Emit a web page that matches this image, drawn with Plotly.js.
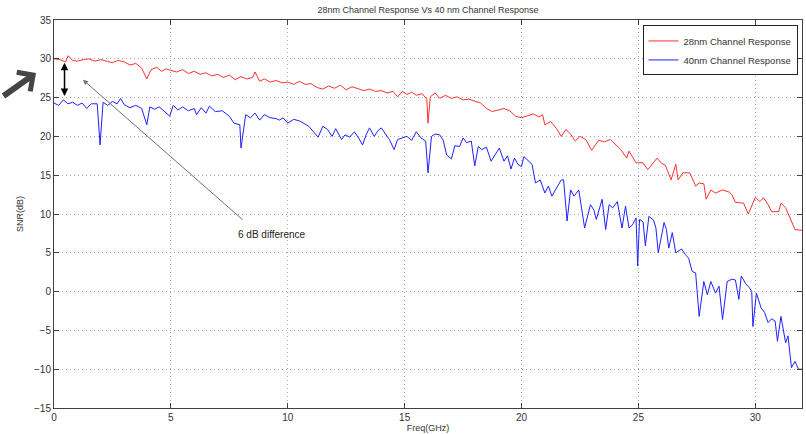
<!DOCTYPE html>
<html>
<head>
<meta charset="utf-8">
<script src="https://cdn.plot.ly/plotly-3.0.1.min.js"></script>
<style>html,body{margin:0;padding:0;background:#fff;}#chart{width:806px;height:434px;}</style>
</head>
<body>
<div id="chart"></div>
<script>
// 28nm channel response (freq GHz, SNR dB)
const freq28 = [0.0,0.25,0.5,0.6,0.8,1.0,1.25,1.5,1.75,2.0,2.25,2.5,2.75,3.0,3.25,3.5,3.75,3.97,4.15,4.4,4.6,4.8,5.0,5.25,5.5,5.75,6.0,6.25,6.5,6.75,7.0,7.25,7.5,7.75,8.0,8.25,8.5,8.6,8.8,9.0,9.25,9.5,9.75,10.0,10.25,10.5,10.75,11.0,11.25,11.5,11.75,12.0,12.25,12.5,12.75,13.0,13.25,13.5,13.75,14.0,14.25,14.5,14.7,14.9,15.1,15.3,15.5,15.75,15.95,16.0,16.1,16.3,16.5,16.75,17.0,17.25,17.5,17.75,18.0,18.25,18.5,18.75,19.0,19.25,19.5,19.75,20.0,20.25,20.5,20.75,20.9,21.0,21.25,21.5,21.7,21.9,22.1,22.3,22.5,22.75,23.0,23.3,23.55,23.8,24.0,24.25,24.5,24.6,24.9,25.2,25.4,25.8,26.0,26.15,26.4,26.6,26.7,26.9,27.2,27.45,27.6,27.8,27.9,28.1,28.3,28.6,28.9,29.0,29.15,29.5,29.7,30.0,30.2,30.35,30.55,30.7,31.0,31.1,31.3,31.55,31.7,32.0];
const snr28  = [30.0,29.9,29.6,30.4,29.8,29.7,29.9,30.0,29.7,29.9,29.7,29.5,29.8,29.6,29.2,29.4,28.8,27.4,28.6,28.9,28.4,28.7,28.5,28.3,28.6,28.1,28.4,28.0,28.2,27.8,28.0,27.6,27.9,27.3,27.7,27.4,27.6,28.3,27.1,27.4,27.0,27.2,26.9,27.0,26.7,27.1,26.7,26.8,26.3,26.1,26.5,26.2,26.6,26.0,26.4,26.1,25.9,26.1,25.8,25.9,25.6,25.8,25.1,25.8,25.4,25.7,25.3,25.5,24.8,21.7,25.1,25.6,24.9,25.3,24.9,25.1,24.7,24.8,24.5,24.3,23.6,23.2,23.4,23.6,23.3,22.6,22.4,22.6,22.9,22.5,22.8,21.5,21.9,21.0,20.0,20.9,20.3,19.4,20.0,19.6,18.2,19.5,19.3,19.6,19.0,18.3,17.2,18.1,16.6,16.6,15.7,17.2,16.5,16.3,14.4,16.4,14.4,15.3,15.3,13.6,14.0,13.9,11.9,13.1,12.7,13.1,12.8,12.5,11.5,11.4,10.0,12.1,11.6,12.1,11.2,10.3,10.3,11.4,10.8,9.1,8.0,7.9];

// 40nm channel response (freq GHz, SNR dB)
const freq40 = [0.0,0.2,0.4,0.6,0.8,1.0,1.2,1.4,1.6,1.85,1.97,2.1,2.3,2.5,2.7,2.85,3.0,3.25,3.5,3.75,3.97,4.1,4.3,4.5,4.7,4.95,5.1,5.3,5.5,5.75,6.0,6.1,6.3,6.5,6.65,6.9,7.2,7.5,7.7,7.95,8.0,8.2,8.4,8.6,8.8,9.0,9.25,9.5,9.65,9.8,10.0,10.25,10.5,10.7,10.9,11.1,11.3,11.5,11.7,11.9,12.05,12.3,12.45,12.65,12.85,13.05,13.2,13.35,13.5,13.7,13.85,14.0,14.2,14.35,14.55,14.7,14.9,15.1,15.3,15.5,15.7,15.9,16.0,16.15,16.3,16.5,16.65,16.8,17.0,17.15,17.35,17.5,17.65,17.85,18.0,18.15,18.3,18.5,18.7,18.85,19.05,19.25,19.4,19.55,19.7,19.85,20.0,20.1,20.3,20.45,20.6,20.8,21.0,21.15,21.3,21.5,21.7,21.8,21.95,22.1,22.25,22.45,22.7,22.95,23.1,23.2,23.45,23.6,23.75,23.9,24.1,24.3,24.45,24.6,24.75,24.9,24.97,25.05,25.2,25.3,25.45,25.65,25.75,25.85,26.1,26.2,26.3,26.45,26.6,26.85,27.0,27.15,27.3,27.45,27.6,27.8,27.95,28.1,28.3,28.45,28.6,28.8,29.0,29.15,29.3,29.4,29.6,29.75,29.85,29.9,30.05,30.25,30.4,30.55,30.7,30.85,30.95,31.1,31.3,31.4,31.55,31.7,31.85,32.0];
const snr40  = [24.3,24.0,24.7,24.2,24.4,24.0,24.3,23.6,24.2,24.2,18.9,24.4,24.0,24.5,24.2,24.9,24.1,23.7,24.0,23.6,21.5,23.8,23.5,23.8,23.3,22.6,24.0,23.4,23.8,23.3,23.6,22.8,23.7,23.0,23.9,23.2,23.3,22.6,21.7,21.5,18.5,22.8,22.4,23.0,22.1,22.8,22.4,22.3,22.1,22.4,21.7,22.2,22.0,21.6,21.3,20.6,19.9,21.3,20.9,20.0,21.0,19.6,20.2,19.9,20.6,19.7,18.9,20.2,21.1,20.0,20.7,21.1,20.2,19.6,18.3,19.6,19.8,20.0,19.5,20.6,19.8,19.4,15.3,20.0,20.3,20.2,19.5,17.6,17.1,18.8,18.7,19.8,19.2,19.4,16.2,18.7,18.3,18.6,16.8,17.6,18.5,16.8,17.5,15.8,17.2,16.4,16.1,17.4,16.8,16.4,14.0,14.4,12.7,13.6,12.3,13.4,14.4,14.4,9.1,13.1,12.3,13.1,8.2,11.2,10.5,9.3,11.9,8.0,11.2,10.8,11.6,8.2,11.0,8.2,8.6,9.5,3.3,9.3,9.0,5.9,9.7,9.2,8.2,5.0,8.9,8.0,5.6,7.6,5.0,5.5,4.8,4.3,2.6,2.4,-3.2,1.3,-0.4,1.3,-0.2,0.7,-3.6,1.3,1.6,1.5,-1.0,2.0,1.0,0.5,0.0,-4.5,-0.2,-2.1,-2.7,-4.0,-3.5,-3.8,-6.4,-3.2,-6.6,-5.7,-9.8,-9.0,-10.0,-10.0];

const seriesNames = ["28nm Channel Response", "40nm Channel Response"];
const chartTitle = "28nm Channel Response Vs 40 nm Channel Response";
const xTitle = "Freq(GHz)";
const yTitle = "SNR(dB)";
const noteText = "6 dB difference";

const FONT = "Liberation Sans, Arial, Helvetica, sans-serif";

const traces = [
  {x: freq28, y: snr28, type: "scatter", mode: "lines", name: seriesNames[0],
   line: {color: "#ff3030", width: 1}},
  {x: freq40, y: snr40, type: "scatter", mode: "lines", name: seriesNames[1],
   line: {color: "#2020ff", width: 1}}
];

const axisCommon = {
  showline: true, linecolor: "#404040", linewidth: 1, mirror: "allticks",
  ticks: "inside", ticklen: 5, tickcolor: "#404040", tickwidth: 1,
  showgrid: true, gridcolor: "#a8a8a8", griddash: "1px,3px", gridwidth: 1,
  zeroline: false, tickfont: {family: FONT, size: 10, color: "#333"}
};

const layout = {
  width: 806, height: 434,
  margin: {l: 54, r: 4, t: 20, b: 26},
  paper_bgcolor: "#fff", plot_bgcolor: "#fff",
  font: {family: FONT, size: 10, color: "#333"},
  title: {text: chartTitle, font: {family: FONT, size: 9, color: "#333"},
          x: 0.5, xref: "paper", y: 0.978, yanchor: "middle"},
  xaxis: Object.assign({}, axisCommon, {
    range: [0, 32], tickmode: "linear", tick0: 0, dtick: 5,
    title: {text: xTitle, font: {family: FONT, size: 9, color: "#333"}, standoff: 2}
  }),
  yaxis: Object.assign({}, axisCommon, {
    range: [-15, 35], tickmode: "linear", tick0: -15, dtick: 5,
    title: {text: yTitle, font: {family: FONT, size: 9, color: "#333"}, standoff: 8}
  }),
  showlegend: true,
  legend: {x: 0.994, xanchor: "right", y: 0.986, yanchor: "top",
           bgcolor: "#fff", bordercolor: "#222", borderwidth: 1,
           font: {family: FONT, size: 9.5, color: "#333"}, tracegroupgap: 0},
  annotations: [
    {x: 0.45, y: 29.5, ax: 0.45, ay: 25.0, xref: "x", yref: "y", axref: "x", ayref: "y",
     text: "", showarrow: true, arrowside: "end+start", arrowhead: 2, arrowsize: 1,
     arrowwidth: 1.5, arrowcolor: "#000"},
    {x: 1.24, y: 27.3, ax: 8.13, ay: 9.1, xref: "x", yref: "y", axref: "x", ayref: "y",
     text: "", showarrow: true, arrowhead: 2, arrowsize: 1, arrowwidth: 1, arrowcolor: "#707070"},
    {x: 9.33, y: 7.4, xref: "x", yref: "y", text: noteText, showarrow: false,
     font: {family: FONT, size: 10, color: "#222"}},
    {x: (36 - 54) / 748, y: (408 - 73) / 388, xref: "paper", yref: "paper",
     ax: -34, ay: 24, text: "", showarrow: true, arrowhead: 4, arrowsize: 0.75,
     arrowwidth: 6, arrowcolor: "#454545"}
  ]
};

Plotly.newPlot("chart", traces, layout, {displayModeBar: false, staticPlot: true});
</script>
</body>
</html>
